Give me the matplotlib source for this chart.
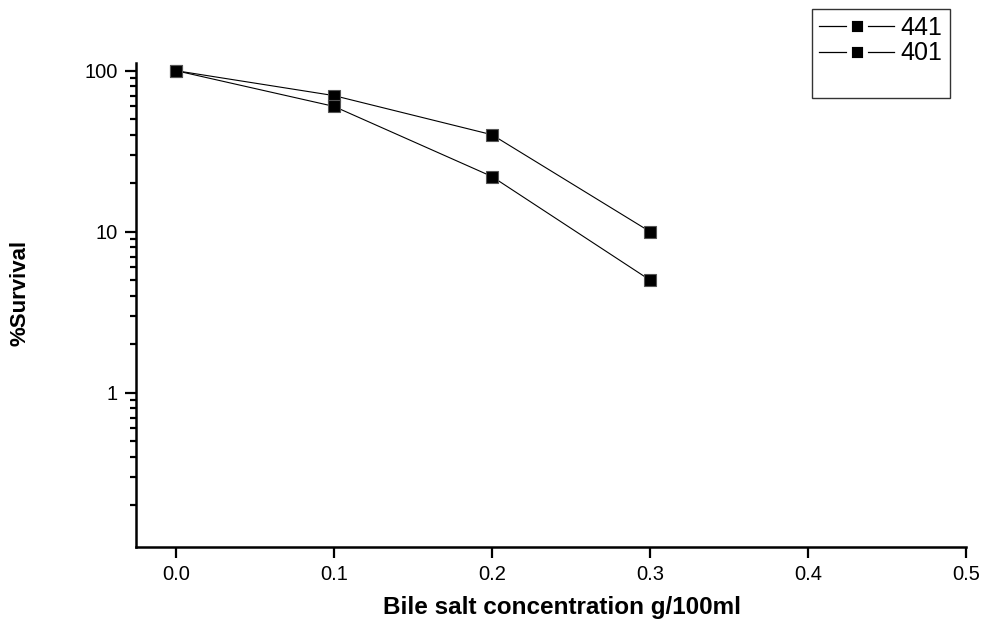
import numpy as np
import matplotlib
matplotlib.use("Agg")
import matplotlib.pyplot as plt
from matplotlib.lines import Line2D
from matplotlib.ticker import LogLocator, NullFormatter, FixedLocator

plt.rcParams["font.family"] = ["Liberation Sans", "DejaVu Sans"]

conc = [0.0, 0.1, 0.2, 0.3]
surv_441 = [100, 70, 40, 10]
surv_401 = [100, 60, 22, 5]
labels = ["441", "401"]

fig = plt.figure(figsize=(9.84, 6.21), dpi=100)
ax = fig.add_axes([0.138, 0.119, 0.844, 0.78])

for y in [surv_441, surv_401]:
    ax.plot(conc, y, "-", color="black", lw=0.8, marker="s", ms=9,
            mfc="black", mec="#555555", mew=0.8)

ax.set_yscale("log")
ax.set_xlim(-0.0253, 0.5)
ax.set_ylim(0.11, 112)
ax.set_xticks([0.0, 0.1, 0.2, 0.3, 0.4, 0.5])
ax.set_xticklabels(["0.0", "0.1", "0.2", "0.3", "0.4", "0.5"])
ax.yaxis.set_major_locator(FixedLocator([1, 10, 100]))
ax.set_yticklabels(["1", "10", "100"])
ax.yaxis.set_minor_locator(LogLocator(base=10, subs=np.arange(2, 10)))
ax.yaxis.set_minor_formatter(NullFormatter())

for s in ["top", "right"]:
    ax.spines[s].set_visible(False)
for s in ["left", "bottom"]:
    ax.spines[s].set_linewidth(1.8)

ax.tick_params(axis="both", which="major", direction="out", length=8,
               width=1.6, labelsize=14.5, pad=5)
ax.tick_params(axis="y", which="minor", direction="out", length=4.5, width=1.6)

ax.set_xlabel("Bile salt concentration g/100ml", fontsize=17.5, fontweight="bold")
ax.xaxis.set_label_coords(0.513, -0.1)
ax.set_ylabel("%Survival", fontsize=16, fontweight="bold")
ax.yaxis.set_label_coords(-0.127, 0.525)

# legend: line - marker - line with small gaps around the marker
handles = [Line2D([], [], color="black", lw=0.9, marker="s", ms=11,
                  mfc="black", mec="white", mew=3.5) for _ in labels]
handles.append(Line2D([], [], color="none"))
leg = fig.legend(handles, labels + [" "], loc="upper left",
                 bbox_to_anchor=(0.825, 0.986), bbox_transform=fig.transFigure,
                 fontsize=18, frameon=True, fancybox=False, edgecolor="black",
                 handlelength=3.0, borderpad=0.3, labelspacing=0.05,
                 handletextpad=0.25, borderaxespad=0)
leg.get_frame().set_linewidth(1.0)

fig.savefig("out.png", dpi=100)
